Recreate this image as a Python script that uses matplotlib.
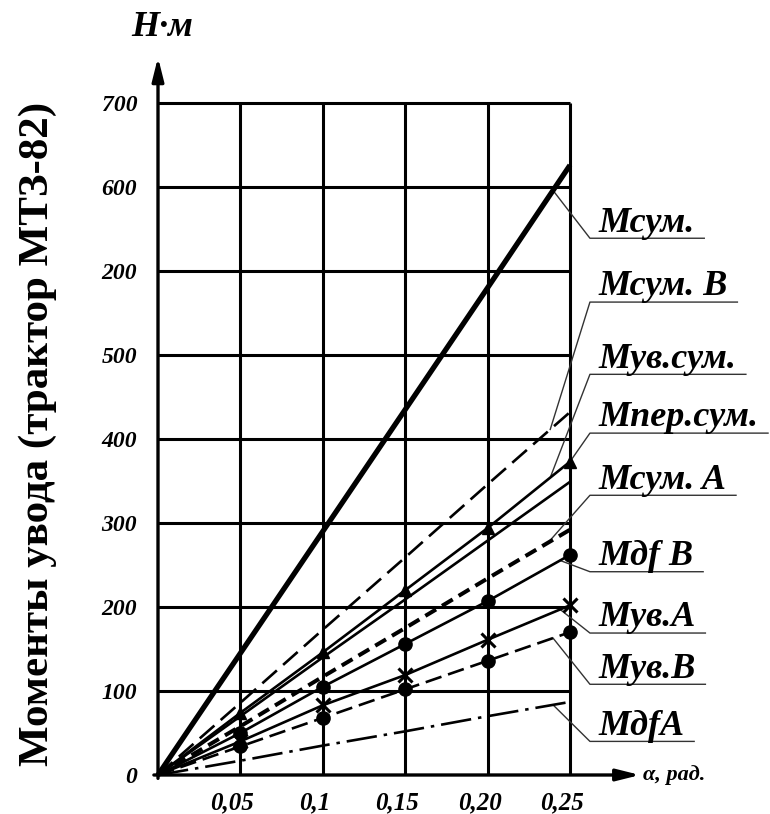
import matplotlib.pyplot as plt
import matplotlib.transforms as mtransforms
import numpy as np

plt.rcParams['font.family'] = ['Liberation Serif', 'DejaVu Serif']
plt.rcParams['lines.scale_dashes'] = False

# angle of slip, rad
alpha = [0, 0.05, 0.10, 0.15, 0.20, 0.25]

# moments (in grid units of 100 per cell)
m_sum = [0, 145, 290, 435, 580, 726]
m_sum_b = [0, 86, 173, 259, 346, 432]
m_uv_sum = [0, 74, 146, 220, 294, 373]
m_per_sum = [0, 70, 140, 209, 279, 349]
m_sum_a = [0, 58, 117, 175, 234, 292]
m_df_b = [0, 50, 105, 156, 207, 262]
m_uv_a = [0, 40, 83, 119, 161, 202]
m_uv_b = [0, 34, 68, 102, 136, 170]
m_df_a = [0, 17, 35, 52, 70, 87]

x_ticks = [0.05, 0.10, 0.15, 0.20, 0.25]
x_tick_labels = ['0,05', '0,1', '0,15', '0,20', '0,25']
y_ticks = [0, 100, 200, 300, 400, 500, 600, 700, 800]
y_tick_labels = ['0', '100', '200', '300', '400', '500', '200', '600', '700']

series = {
    'm_sum': m_sum, 'm_sum_b': m_sum_b, 'm_uv_sum': m_uv_sum,
    'm_per_sum': m_per_sum, 'm_sum_a': m_sum_a, 'm_df_b': m_df_b,
    'm_uv_a': m_uv_a, 'm_uv_b': m_uv_b, 'm_df_a': m_df_a,
}

# label text, series the leader points at, x of leader end, y of label underline
callouts = [
    ('Мсум.', 'm_sum', 0.2397, 639),
    ('Мсум. B', 'm_sum_b', 0.238, 563),
    ('Мув.сум.', 'm_uv_sum', 0.238, 477),
    ('Мпер.сум.', 'm_uv_sum', 0.25, 407),
    ('Мсум. A', 'm_sum_a', 0.2367, 333),
    ('Мдf B', 'm_df_b', 0.244, 242),
    ('Мув.A', 'm_uv_a', 0.244, 169),
    ('Мув.B', 'm_uv_b', 0.2397, 108),
    ('МдfA', 'm_df_a', 0.2397, 40),
]

W, H = 770, 814
fig = plt.figure(figsize=(W / 100, H / 100), dpi=100)
ax = fig.add_axes([158 / W, 39 / H, 412 / W, 672 / H])
ax.set_xlim(0, 0.25)
ax.set_ylim(0, 800)

# grid (drawn by hand so the border lines are not clipped)
ax.vlines(x_ticks, 0, 800, color='black', lw=2.2, clip_on=False, zorder=1)
ax.hlines(y_ticks[1:], 0, 0.25, color='black', lw=2.2, clip_on=False, zorder=1)
for s in ax.spines.values():
    s.set_visible(False)
ax.set_xticks(x_ticks)
ax.set_yticks(y_ticks)
ax.tick_params(length=0)
ax.set_xticklabels(x_tick_labels, fontsize=18, fontweight='bold', style='italic')
ax.set_yticklabels(y_tick_labels, fontsize=17, fontweight='bold', style='italic')
ax.tick_params(axis='x', pad=12)
ax.tick_params(axis='y', pad=15)
# the x labels sit a bit to the left of their grid lines
shift = mtransforms.ScaledTranslation(-8 / 100, 0, fig.dpi_scale_trans)
for lab in ax.get_xticklabels():
    lab.set_transform(lab.get_transform() + shift)

# axes with arrows
arrow = dict(arrowstyle='-|>,head_length=1.4,head_width=0.35', lw=2.4, color='black',
             shrinkA=0, shrinkB=0)
ax.annotate('', xy=(1.17, 0), xytext=(-0.01, 0), xycoords='axes fraction',
            arrowprops=arrow, annotation_clip=False)
ax.annotate('', xy=(0, 1.068), xytext=(0, -0.005), xycoords='axes fraction',
            arrowprops=arrow, annotation_clip=False)

# lines
kw = dict(color='black', clip_on=False, zorder=3)
ax.plot(alpha, m_sum, lw=3.8, solid_capstyle='butt', **kw)
ax.plot(alpha, m_sum_b, lw=1.9, dashes=(14, 6), **kw)
ax.plot(alpha, m_uv_sum, lw=1.9, marker='^', ms=9, markevery=slice(1, None), **kw)
ax.plot(alpha, m_per_sum, lw=1.9, **kw)
ax.plot(alpha, m_sum_a, lw=2.9, dashes=(9, 5), **kw)
ax.plot(alpha, m_df_b, lw=1.9, marker='o', ms=9.5, markevery=slice(1, None), **kw)
ax.plot(alpha, m_uv_a, lw=1.9, marker='x', ms=10, mew=2.2, markevery=slice(1, None), **kw)
ax.plot(alpha, m_uv_b, lw=1.9, dashes=(12, 5), marker='o', ms=9.5,
        markevery=slice(1, None), **kw)
ax.plot(alpha, m_df_a, lw=1.9, dashes=(22, 5, 2.5, 5), **kw)

# callout labels with leaders
x_start = 0.2621
texts = []
for text, key, xt, yl in callouts:
    yt = np.interp(xt, alpha, series[key])
    t = ax.text(0.267, yl + 8, text, fontsize=26, fontweight='bold', style='italic',
                ha='left', va='baseline', clip_on=False)
    texts.append((t, xt, yt, yl))

fig.canvas.draw()
inv = ax.transData.inverted()
for t, xt, yt, yl in texts:
    bb = t.get_window_extent()
    x_end = inv.transform((bb.x1 + 10, 0))[0]
    ax.plot([xt, x_start, x_end], [yt, yl, yl], color='#333333', lw=1.0, clip_on=False)

# axis titles
fig.text(162 / W, 1 - 28 / H, 'Н·м', fontsize=26, fontweight='bold', style='italic',
         ha='center', va='center')
fig.text(643 / W, 1 - 775 / H, 'α, рад.', fontsize=16, fontweight='bold', style='italic',
         ha='left', va='center')
fig.text(38 / W, 1 - 434 / H, 'Моменты увода (трактор МТЗ-82)', fontsize=31,
         fontweight='bold', rotation=90, ha='center', va='center')

fig.savefig('out.png', dpi=100)
